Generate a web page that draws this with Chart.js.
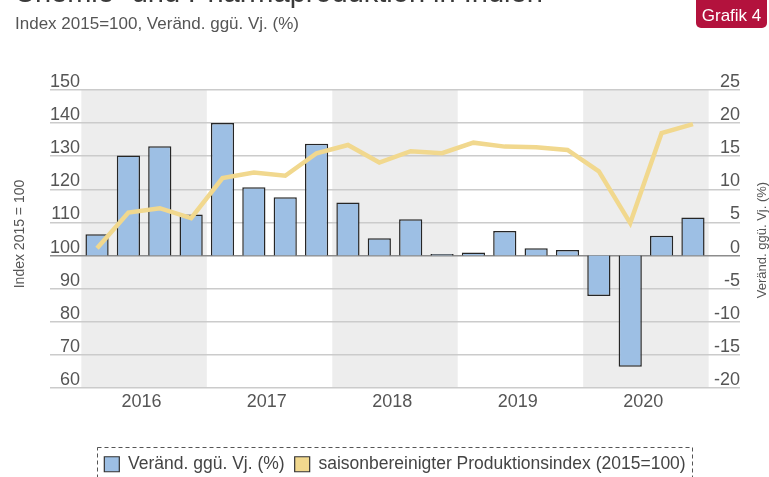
<!DOCTYPE html>
<html><head><meta charset="utf-8">
<script src="https://cdn.jsdelivr.net/npm/chart.js@4"></script>
<style>html,body{margin:0;padding:0;background:#fff;overflow:hidden}</style>
</head><body>
<canvas id="c" width="769" height="477"></canvas>
<script>
const quarters = ['2016 Q1','2016 Q2','2016 Q3','2016 Q4','2017 Q1','2017 Q2','2017 Q3','2017 Q4',
  '2018 Q1','2018 Q2','2018 Q3','2018 Q4','2019 Q1','2019 Q2','2019 Q3','2019 Q4',
  '2020 Q1','2020 Q2','2020 Q3','2020 Q4'];
const yearLabels = ['2016','2017','2018','2019','2020'];
const changePct = [3.2, 15.1, 16.5, 6.2, 20.0, 10.3, 8.8, 16.9, 8.0, 2.6, 5.5, 0.25, 0.45, 3.7, 1.1, 0.85, -6.1, -16.8, 3.0, 5.75];
const prodIndex = [102.2, 113.0, 114.3, 111.3, 123.4, 125.1, 124.1, 130.9, 133.4, 128.1, 131.5, 130.9, 134.1, 132.9, 132.7, 131.9, 125.4, 109.8, 137.0, 139.7];
const leftTicks = [60, 70, 80, 90, 100, 110, 120, 130, 140, 150];
const rightTicks = [-20, -15, -10, -5, 0, 5, 10, 15, 20, 25];
const seriesNames = ['Veränd. ggü. Vj. (%)', 'saisonbereinigter Produktionsindex (2015=100)'];
const titleText = 'Chemie- und Pharmaproduktion in Indien';
const subtitleText = 'Index 2015=100, Veränd. ggü. Vj. (%)';
const leftAxisTitle = 'Index 2015 = 100';
const rightAxisTitle = 'Veränd. ggü. Vj. (%)';
const badgeText = 'Grafik 4';

const FONT = "'Liberation Sans', Arial, sans-serif";
const labels = [''].concat(quarters, ['']);
const barData = [null].concat(changePct, [null]);
const lineData = [null].concat(prodIndex, [null]);

const bandsPlugin = {
  id: 'bands',
  beforeDraw(chart) {
    const {ctx, chartArea, scales: {x}} = chart;
    const half = (x.getPixelForValue(1) - x.getPixelForValue(0)) / 2;
    ctx.save();
    ctx.fillStyle = '#ededed';
    for (let y = 0; y < yearLabels.length; y += 2) {
      const s = x.getPixelForValue(1 + y * 4) - half;
      const e = x.getPixelForValue(1 + y * 4 + 3) + half;
      ctx.fillRect(s, chartArea.top, e - s, chartArea.bottom - chartArea.top);
    }
    ctx.restore();
  }
};

const decoPlugin = {
  id: 'deco',
  afterDraw(chart) {
    const {ctx} = chart;
    ctx.save();
    // title (cut off at top)
    ctx.fillStyle = '#3a3a3a';
    ctx.font = '29px ' + FONT;
    ctx.textBaseline = 'alphabetic';
    ctx.textAlign = 'left';
    ctx.fillText(titleText, 14, 2);
    // subtitle
    ctx.fillStyle = '#555';
    ctx.font = '17px ' + FONT;
    ctx.fillText(subtitleText, 15, 29);
    // badge
    ctx.fillStyle = '#b3123d';
    ctx.beginPath();
    ctx.roundRect(696, -6, 71, 34, 5);
    ctx.fill();
    ctx.fillStyle = '#fff';
    ctx.font = '17px ' + FONT;
    ctx.textAlign = 'center';
    ctx.fillText(badgeText, 731.5, 21);
    // axis titles
    ctx.fillStyle = '#555';
    ctx.textBaseline = 'middle';
    ctx.font = '14px ' + FONT;
    ctx.save();
    ctx.translate(20, 234);
    ctx.rotate(-Math.PI / 2);
    ctx.fillText(leftAxisTitle, 0, 0);
    ctx.restore();
    ctx.font = '13px ' + FONT;
    ctx.save();
    ctx.translate(762, 240);
    ctx.rotate(-Math.PI / 2);
    ctx.fillText(rightAxisTitle, 0, 0);
    ctx.restore();
    // legend frame
    const lg = chart.legend;
    if (lg && lg.legendHitBoxes && lg.legendHitBoxes.length) {
      let l = Infinity, r = -Infinity;
      lg.legendHitBoxes.forEach(b => { l = Math.min(l, b.left); r = Math.max(r, b.left + b.width); });
      ctx.strokeStyle = '#555';
      ctx.lineWidth = 1;
      ctx.setLineDash([4, 3]);
      ctx.strokeRect(Math.round(l - 7) + 0.5, 447.5, Math.round(r - l + 14), 40);
    }
    ctx.restore();
  }
};

new Chart(document.getElementById('c'), {
  data: {
    labels: labels,
    datasets: [
      {
        type: 'bar', label: seriesNames[0], data: barData, yAxisID: 'y1', order: 1,
        backgroundColor: '#9dbfe4', borderColor: '#262626', borderWidth: 1.5,
        barPercentage: 0.74, categoryPercentage: 1.0
      },
      {
        type: 'line', label: seriesNames[1], data: lineData, yAxisID: 'y', order: 0,
        borderColor: '#f1d88e', backgroundColor: '#f1d88e', borderWidth: 4.5,
        pointRadius: 0, tension: 0, spanGaps: false, borderJoinStyle: 'miter'
      }
    ]
  },
  options: {
    responsive: false,
    animation: false,
    layout: { padding: { left: 50, right: 29, top: 90, bottom: -6 } },
    scales: {
      x: {
        type: 'category',
        grid: { display: false, drawTicks: false },
        border: { display: false },
        ticks: {
          autoSkip: false, maxRotation: 0, minRotation: 0, padding: 3, labelOffset: 13,
          color: '#555', font: { family: FONT, size: 18 },
          callback: (v, i) => {
            const q = i - 1;
            return (q >= 0 && q < quarters.length && q % 4 === 1) ? yearLabels[(q - 1) / 4] : '';
          }
        },
        afterFit: (scale) => { scale.height = 95 - (scale.chart.legend ? scale.chart.legend.height : 0); }
      },
      y: {
        position: 'left', min: 60, max: 150,
        afterBuildTicks: (s) => { s.ticks = leftTicks.map(v => ({ value: v })); },
        grid: {
          drawTicks: false, lineWidth: 1.5,
          color: (c) => (c.tick && c.tick.value === 100) ? '#8c8c8c' : '#cbcbcb'
        },
        border: { display: false },
        ticks: { mirror: true, crossAlign: 'far', padding: 0, labelOffset: -8, color: '#555', font: { family: FONT, size: 18 } }
      },
      y1: {
        position: 'right', min: -20, max: 25,
        afterBuildTicks: (s) => { s.ticks = rightTicks.map(v => ({ value: v })); },
        grid: { display: false, drawTicks: false },
        border: { display: false },
        ticks: { mirror: true, padding: 0, labelOffset: -8, color: '#555', font: { family: FONT, size: 18 } }
      }
    },
    plugins: {
      tooltip: { enabled: false },
      legend: {
        position: 'bottom',
        labels: {
          color: '#444', font: { family: FONT, size: 17.5 }, boxWidth: 15, boxHeight: 15, padding: 10,
          sort: (a, b) => a.datasetIndex - b.datasetIndex,
          generateLabels: (chart) => chart.data.datasets.map((d, i) => ({
            text: d.label, datasetIndex: i, fillStyle: d.type === 'bar' ? d.backgroundColor : d.borderColor,
            strokeStyle: '#333', lineWidth: 1.2, hidden: false, fontColor: '#444'
          }))
        }
      }
    }
  },
  plugins: [bandsPlugin, decoPlugin]
});
</script>
</body></html>
